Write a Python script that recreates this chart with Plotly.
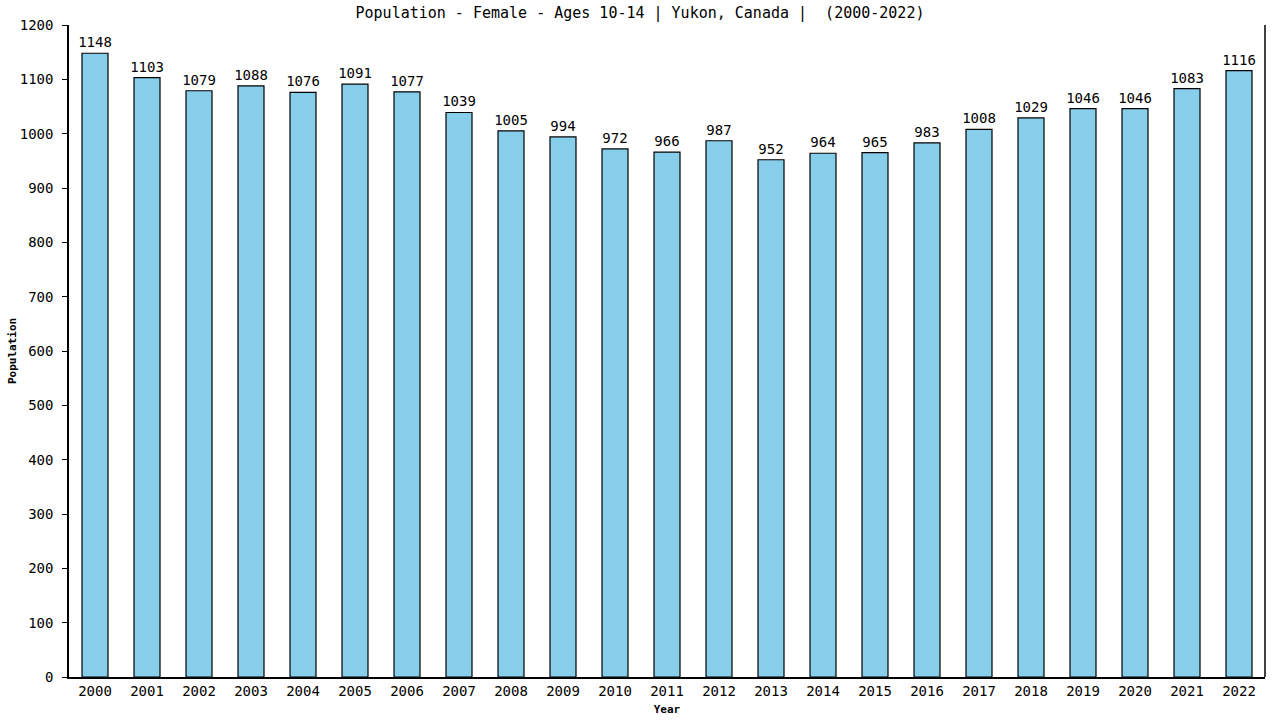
import plotly.graph_objects as go

years = [str(y) for y in range(2000, 2023)]
population = [1148, 1103, 1079, 1088, 1076, 1091, 1077, 1039, 1005, 994, 972,
              966, 987, 952, 964, 965, 983, 1008, 1029, 1046, 1046, 1083, 1116]

font_family = "DejaVu Sans Mono"

fig = go.Figure()
fig.add_trace(go.Bar(
    x=years,
    y=population,
    width=0.5,
    marker=dict(color="#87ceeb", line=dict(color="black", width=1.2)),
    text=[str(v) for v in population],
    textposition="outside",
    constraintext="none",
    textfont=dict(family=font_family, size=14, color="black"),
    cliponaxis=False,
))

fig.update_layout(
    width=1280, height=720,
    paper_bgcolor="white", plot_bgcolor="white",
    margin=dict(l=69, r=15, t=25, b=43),
    showlegend=False,
    title=dict(
        text="Population - Female - Ages 10-14 | Yukon, Canada |  (2000-2022)",
        x=0.5, xanchor="center", y=1 - 13 / 720, yanchor="middle",
        font=dict(family=font_family, size=15, color="black"),
    ),
    font=dict(family=font_family, color="black"),
)

fig.update_xaxes(
    range=[-0.5, 22.5], automargin=False,
    showline=True, linecolor="black", linewidth=1.5,
    mirror=False, ticks="", showgrid=False,
    tickfont=dict(family=font_family, size=14, color="black"),
    title=dict(text="<b>Year</b>", font=dict(family=font_family, size=11), standoff=8),
)
fig.update_yaxes(
    range=[0, 1200], dtick=100, automargin=False,
    showline=True, linecolor="black", linewidth=1.5,
    ticks="outside", ticklen=5, tickcolor="black", ticklabelstandoff=6,
    showgrid=False, zeroline=False,
    tickfont=dict(family=font_family, size=14, color="black"),
)

# y axis title placed by hand, close to the page edge like the reference
fig.add_annotation(
    text="<b>Population</b>", textangle=-90,
    xref="paper", yref="paper", x=-57 / 1196, y=0.5,
    xanchor="center", yanchor="middle", showarrow=False,
    font=dict(family=font_family, size=11, color="black"),
)

# right border line of the plot area
fig.add_shape(type="line", xref="paper", yref="paper", x0=1, x1=1, y0=0, y1=1,
              line=dict(color="black", width=1.5))

# drop the default body margin so the figure sits at the page corner
fig.write_html("out.html", config={"displayModeBar": False},
               post_script="document.body.style.margin='0';")
